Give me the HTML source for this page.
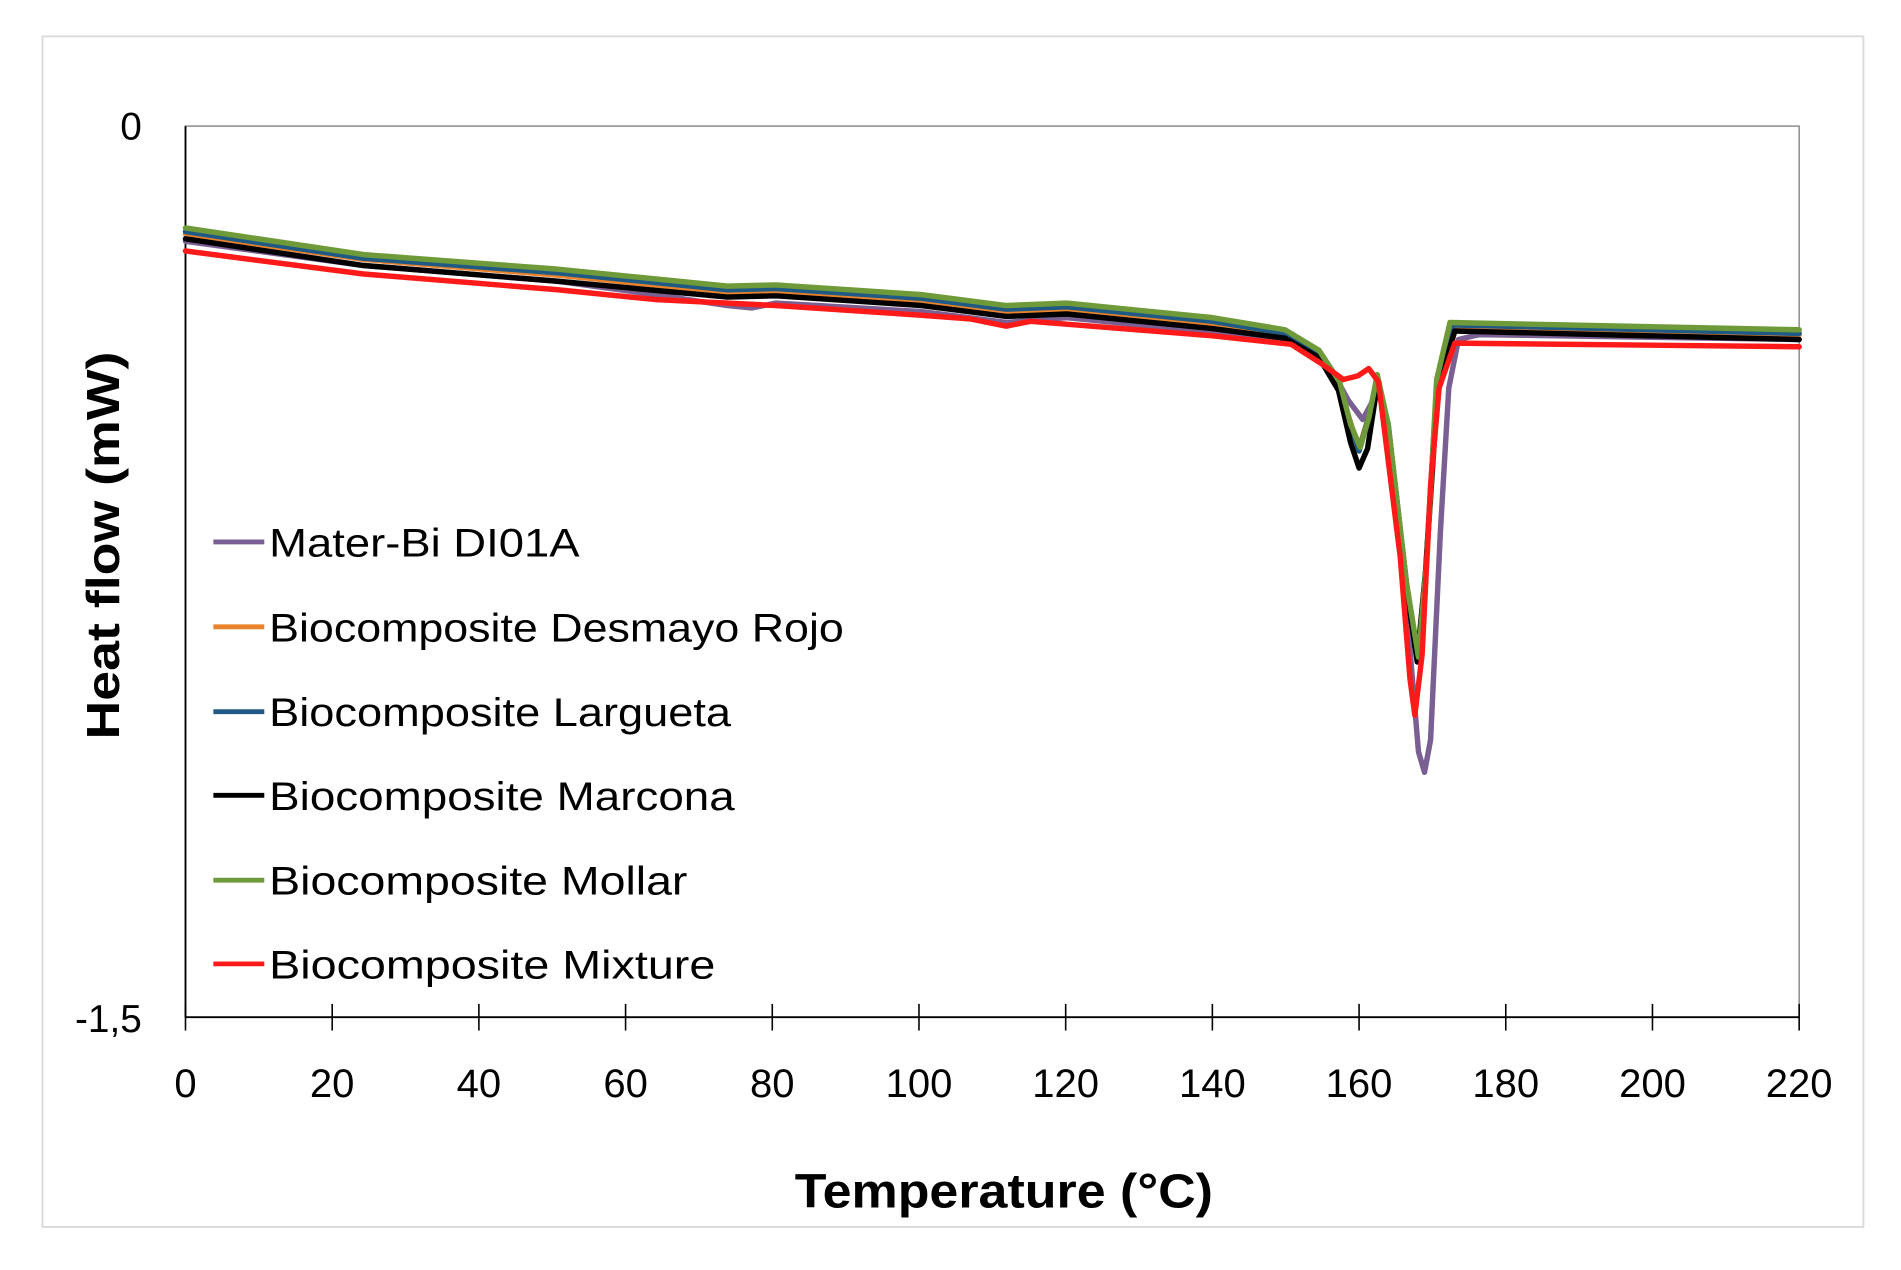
<!DOCTYPE html>
<html><head><meta charset="utf-8"><style>
html,body{margin:0;padding:0;background:#fff;}
svg{display:block;}
text{font-family:"Liberation Sans",sans-serif;fill:#000;}
</style></head><body>
<svg width="1901" height="1270" viewBox="0 0 1568 1047.5" preserveAspectRatio="none">
<rect x="0" y="0" width="1568" height="1047.5" fill="#fff"/>
<rect x="35" y="30" width="1502" height="982" fill="#fff" stroke="#d9d9d9" stroke-width="1.5"/>
<rect x="153" y="104" width="1331" height="735" fill="none" stroke="#888" stroke-width="1.2"/>
<line x1="153" y1="839" x2="1484" y2="839" stroke="#000" stroke-width="1.5"/>
<line x1="153" y1="104" x2="153" y2="839" stroke="#000" stroke-width="1.5"/>
<g stroke="#000" stroke-width="1.3">
<line x1="153" y1="828" x2="153" y2="850"/><line x1="274" y1="828" x2="274" y2="850"/><line x1="395" y1="828" x2="395" y2="850"/><line x1="516" y1="828" x2="516" y2="850"/><line x1="637" y1="828" x2="637" y2="850"/><line x1="758" y1="828" x2="758" y2="850"/><line x1="879" y1="828" x2="879" y2="850"/><line x1="1000" y1="828" x2="1000" y2="850"/><line x1="1121" y1="828" x2="1121" y2="850"/><line x1="1242" y1="828" x2="1242" y2="850"/><line x1="1363" y1="828" x2="1363" y2="850"/><line x1="1484" y1="828" x2="1484" y2="850"/>
</g>
<g font-size="33" text-anchor="middle">
<text x="153" y="905">0</text><text x="274" y="905">20</text><text x="395" y="905">40</text><text x="516" y="905">60</text><text x="637" y="905">80</text><text x="758" y="905">100</text><text x="879" y="905">120</text><text x="1000" y="905">140</text><text x="1121" y="905">160</text><text x="1242" y="905">180</text><text x="1363" y="905">200</text><text x="1484" y="905">220</text>
</g>
<text x="117" y="115" font-size="32" text-anchor="end">0</text>
<text x="117" y="851" font-size="32" text-anchor="end">-1,5</text>
<text x="828" y="996" font-size="40" font-weight="bold" text-anchor="middle" textLength="345" lengthAdjust="spacingAndGlyphs">Temperature (°C)</text>
<text transform="translate(98,450) rotate(-90)" font-size="38" font-weight="bold" text-anchor="middle" textLength="320" lengthAdjust="spacingAndGlyphs">Heat flow (mW)</text>
<g fill="none" stroke-width="4.5" stroke-linejoin="round" stroke-linecap="round">
<path stroke="#7a5f93" d="M153,199 L300,219 L460,232 L540,243 L600,252 L620,254 L640,250 L760,257 L830,266 L880,262 L1000,274 L1060,281 L1085,292 L1100,308 L1112,330 L1124,346 L1131,333 L1137,318 L1145,360 L1160,500 L1170,620 L1175,637 L1180,610 L1188,440 L1195,320 L1203,280 L1220,276 L1484,280"/>
<path stroke="#e9822b" d="M153,193 L300,214 L460,227 L600,241 L640,240 L760,248 L830,257 L880,255 L1000,267 L1060,276 L1088,292 L1104,318 L1121,370 L1130,340 L1136,312 L1145,350 L1160,480 L1169,545 L1176,470 L1185,320 L1198,270 L1484,276"/>
<path stroke="#1f5a85" d="M153,191 L300,213 L460,225 L600,239 L640,238 L760,246 L830,255 L880,253 L1000,265 L1060,275 L1088,291 L1104,318 L1121,372 L1130,340 L1136,311 L1145,350 L1160,480 L1169,544 L1176,470 L1185,320 L1198,268 L1484,275"/>
<path stroke="#000" d="M153,197 L300,219 L460,232 L600,245 L640,244 L760,252 L830,261 L880,259 L1000,271 L1060,279 L1088,295 L1104,322 L1114,365 L1121,386 L1128,370 L1136,318 L1145,355 L1160,485 L1169,546 L1176,470 L1186,320 L1200,273 L1484,280"/>
<path stroke="#6f9a3a" d="M153,188 L300,210 L460,222 L600,236 L640,235 L760,243 L830,252 L880,250 L1000,262 L1060,272 L1088,289 L1105,315 L1114,350 L1122,369 L1129,345 L1136,309 L1145,350 L1160,480 L1170,542 L1177,460 L1185,313 L1196,266 L1484,272"/>
<path stroke="#ff1a1a" d="M153,207 L300,226 L460,239 L540,247 L640,252 L760,260 L800,263 L830,269 L850,265 L1000,277 L1065,284 L1090,300 L1108,313 L1120,310 L1129,304 L1137,315 L1155,460 L1163,560 L1167,590 L1173,540 L1180,400 L1187,320 L1200,283 L1484,286"/>
</g>
<g stroke-width="4">
<line x1="176" y1="447" x2="218" y2="447" stroke="#7a5f93"/>
<line x1="176" y1="517" x2="218" y2="517" stroke="#e9822b"/>
<line x1="176" y1="587" x2="218" y2="587" stroke="#1f5a85"/>
<line x1="176" y1="656" x2="218" y2="656" stroke="#000"/>
<line x1="176" y1="726" x2="218" y2="726" stroke="#6f9a3a"/>
<line x1="176" y1="795" x2="218" y2="795" stroke="#ff1a1a"/>
</g>
<g font-size="33">
<text x="222" y="459" textLength="256" lengthAdjust="spacingAndGlyphs">Mater-Bi DI01A</text>
<text x="222" y="529" textLength="474" lengthAdjust="spacingAndGlyphs">Biocomposite Desmayo Rojo</text>
<text x="222" y="599" textLength="381" lengthAdjust="spacingAndGlyphs">Biocomposite Largueta</text>
<text x="222" y="668" textLength="384" lengthAdjust="spacingAndGlyphs">Biocomposite Marcona</text>
<text x="222" y="738" textLength="345" lengthAdjust="spacingAndGlyphs">Biocomposite Mollar</text>
<text x="222" y="807" textLength="368" lengthAdjust="spacingAndGlyphs">Biocomposite Mixture</text>
</g>
</svg>
</body></html>
